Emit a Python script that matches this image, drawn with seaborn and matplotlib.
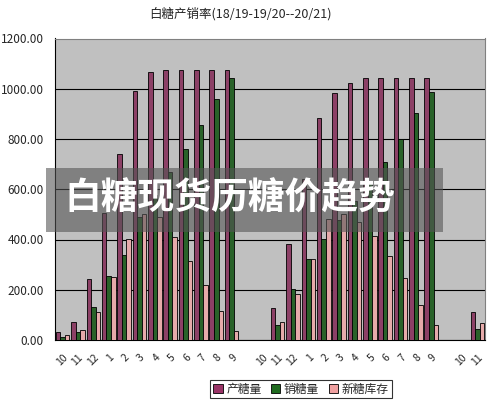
import matplotlib
matplotlib.use("Agg")
import matplotlib.pyplot as plt
import seaborn as sns
import pandas as pd
from matplotlib.patches import Rectangle, Patch
from matplotlib.ticker import FormatStrFormatter, FixedLocator

# ---- data ----
slot_labels = ['10', '11', '12', '1', '2', '3', '4', '5', '6', '7', '8', '9', '',
               '10', '11', '12', '1', '2', '3', '4', '5', '6', '7', '8', '9', '',
               '10', '11']
production = [32, 73, 242, 505, 741, 992, 1066, 1075, 1075, 1075, 1075, 1075, 0,
              0, 129, 382, 640, 883, 983, 1023, 1043, 1043, 1043, 1043, 1043, 0,
              0, 110]
sales = [13, 32, 131, 255, 337, 489, 578, 669, 761, 857, 959, 1043, 0,
         0, 60, 202, 321, 401, 478, 554, 631, 708, 800, 903, 986, 0,
         0, 42]
stock = [19, 40, 110, 250, 401, 502, 488, 409, 316, 219, 116, 36, 0,
         0, 70, 183, 321, 482, 500, 469, 412, 336, 246, 139, 60, 0,
         0, 68]
series_names = ['产糖量', '销糖量', '新糖库存']
series_colors = ['#993366', '#1f6b1f', '#f0a0a0']
title_text = '白糖产销率(18/19-19/20--20/21)'
banner_text = '白糖现货历糖价趋势'

rows = []
for i in range(len(slot_labels)):
    for name, vals in zip(series_names, [production, sales, stock]):
        rows.append({'slot': i, 'series': name, 'value': vals[i]})
df = pd.DataFrame(rows)

sns.set_style('white')
plt.rcParams['font.family'] = ['Noto Sans CJK SC', 'DejaVu Sans']

fig = plt.figure(figsize=(4.9, 4.03), dpi=100)
ax = fig.add_axes([55 / 490, 1 - 340 / 403, 430 / 490, (340 - 38.5) / 403])
ax.set_facecolor('#c0c0c0')

sns.barplot(data=df, x='slot', y='value', hue='series', order=list(range(len(slot_labels))),
            hue_order=series_names, palette=series_colors, width=0.88, gap=0,
            edgecolor='black', linewidth=0.6, legend=False, ax=ax, zorder=3)

ax.set_xlim(-0.5, len(slot_labels) - 0.5)
ax.set_ylim(0, 1200)
ax.set_yticks(range(0, 1201, 200))
ax.yaxis.set_major_formatter(FormatStrFormatter('%.2f'))
ax.grid(axis='y', color='black', linewidth=0.8, zorder=1)
ax.set_axisbelow(True)
ax.set_xlabel('')
ax.set_ylabel('')

ax.set_xticks(range(len(slot_labels)))
ax.set_xticklabels(slot_labels, rotation=45, ha='right', va='top', fontsize=7.5,
                   rotation_mode='anchor')
ax.tick_params(axis='x', length=0, pad=9)
ax.xaxis.set_minor_locator(FixedLocator([i + 0.5 for i in range(-1, len(slot_labels))]))
ax.tick_params(axis='x', which='minor', direction='in', length=4, color='black', width=0.7)
ax.tick_params(axis='y', labelsize=8.5, length=3, direction='out', color='black', pad=5)

for side in ['top', 'right']:
    ax.spines[side].set_color('#808080')
    ax.spines[side].set_linewidth(0.8)
for side in ['left', 'bottom']:
    ax.spines[side].set_color('black')
    ax.spines[side].set_linewidth(0.8)

fig.text(240 / 490, 1 - 14 / 403, title_text, ha='center', va='center', fontsize=9)

handles = [Patch(facecolor=c, edgecolor='black', linewidth=0.6) for c in series_colors]
leg = fig.legend(handles, series_names, loc='center', bbox_to_anchor=(301 / 490, 1 - 389 / 403),
                 ncol=3, fontsize=8.5, frameon=True, fancybox=False, edgecolor='black',
                 handlelength=0.8, handleheight=0.8, handletextpad=0.3, columnspacing=0.8,
                 borderpad=0.25, borderaxespad=0)
leg.get_frame().set_linewidth(0.8)

# overlay banner
fig.patches.append(Rectangle((46 / 490, 1 - 232 / 403), (443 - 46) / 490, 64 / 403,
                             transform=fig.transFigure, facecolor='#545454', alpha=0.59,
                             edgecolor='none', zorder=10))
fig.text(64 / 490, 1 - 199 / 403, banner_text, ha='left', va='center', fontsize=26.5,
         fontweight='bold', color='white', zorder=11)

fig.savefig('out.png', dpi=100)
